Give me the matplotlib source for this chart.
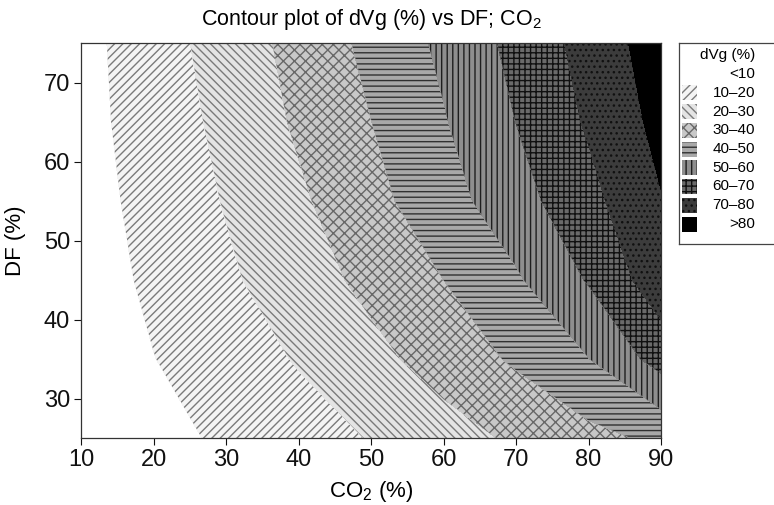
import matplotlib
import matplotlib.pyplot as plt
import numpy as np
from matplotlib.patches import Rectangle

matplotlib.use("Agg")

plt.rcParams["font.family"] = ["Liberation Sans", "DejaVu Sans"]
plt.rcParams["mathtext.fontset"] = "custom"
plt.rcParams["mathtext.rm"] = "Liberation Sans"
plt.rcParams["mathtext.it"] = "Liberation Sans:italic"
plt.rcParams["mathtext.default"] = "regular"
plt.rcParams["hatch.linewidth"] = 1.0

# grid nodes of the response surface
co2 = [10, 20, 30, 40, 50, 60, 70, 80, 90]
df = [25, 35, 45, 55, 65, 75]
# dVg (%) at each node (rows = DF, cols = CO2)
dvg = np.array([
    [2.5, 7.0, 11.5, 15.9, 20.5, 26.0, 31.5, 37.2, 42.0],
    [4.4, 9.8, 15.2, 20.7, 27.2, 34.1, 41.4, 49.8, 64.0],
    [5.2, 11.8, 18.4, 25.4, 32.6, 40.0, 48.7, 60.8, 76.0],
    [6.0, 13.3, 20.6, 28.4, 37.1, 45.9, 56.2, 67.1, 79.5],
    [6.8, 14.5, 22.5, 31.4, 39.9, 49.3, 60.1, 71.2, 82.8],
    [6.9, 15.6, 24.3, 33.2, 42.5, 52.0, 62.8, 73.6, 85.2],
])

level_edges = [0, 10, 20, 30, 40, 50, 60, 70, 80, 100]
band_labels = ["<10", "10\u201320", "20\u201330", "30\u201340", "40\u201350",
               "50\u201360", "60\u201370", "70\u201380", ">80"]

# fill / hatch / hatch colour for each band
band_style = [
    ("#ffffff", None, "#ffffff"),
    ("#f4f4f4", "////", "#7a7a7a"),
    ("#e4e4e4", "\\\\\\\\", "#7a7a7a"),
    ("#c8c8c8", "xxx", "#686868"),
    ("#a8a8a8", "---", "#303030"),
    ("#8e8e8e", "|||", "#1e1e1e"),
    ("#6a6a6a", "+++", "#101010"),
    ("#3c3c3c", "...", "#101010"),
    ("#000000", None, "#000000"),
]

W, H = 774, 505
fig = plt.figure(figsize=(W / 100, H / 100), dpi=100)
ax = fig.add_axes([81 / W, 1 - 438 / H, 580 / W, 395 / H])

X, Y = np.meshgrid(co2, df)
for i, (fc, hatch, hc) in enumerate(band_style):
    plt.rcParams["hatch.color"] = hc
    ax.contourf(X, Y, dvg, levels=[level_edges[i], level_edges[i + 1]],
                colors=[fc], hatches=[hatch], antialiased=False)

ax.set_xlim(10, 90)
ax.set_ylim(25, 75)
ax.set_xticks(range(10, 91, 10))
ax.set_yticks(range(30, 71, 10))
ax.tick_params(direction="out", length=5, width=0.8, labelsize=17,
               colors="#111111", pad=3)
for sp in ax.spines.values():
    sp.set_linewidth(0.9)
    sp.set_color("#333333")

fig.text(371 / W, 1 - 19 / H, "Contour plot of dVg (%) vs DF; CO$_2$",
         ha="center", va="center", fontsize=15.5)
fig.text(371 / W, 1 - 491 / H, "CO$_2$ (%)", ha="center", va="center",
         fontsize=16)
fig.text(15 / W, 1 - 241 / H, "DF (%)", ha="center", va="center",
         rotation=90, fontsize=16)

# legend box, drawn in pixel units
lax = fig.add_axes([679 / W, 1 - 244 / H, 120 / W, 201 / H])
lax.set_xlim(679, 799)
lax.set_ylim(244, 43)
lax.set_xticks([])
lax.set_yticks([])
for sp in lax.spines.values():
    sp.set_linewidth(0.9)
    sp.set_color("#444444")
lax.text(755, 55, "dVg (%)", ha="right", va="center", fontsize=11)
for i, (lab, (fc, hatch, hc)) in enumerate(zip(band_labels, band_style)):
    yc = 74 + i * 18.75
    plt.rcParams["hatch.color"] = hc
    lax.add_patch(Rectangle((682, yc - 7.5), 15, 15, facecolor=fc,
                            hatch=hatch, edgecolor=hc, linewidth=0))
    lax.text(755, yc, lab, ha="right", va="center", fontsize=11)

fig.savefig("out.png", dpi=100)
